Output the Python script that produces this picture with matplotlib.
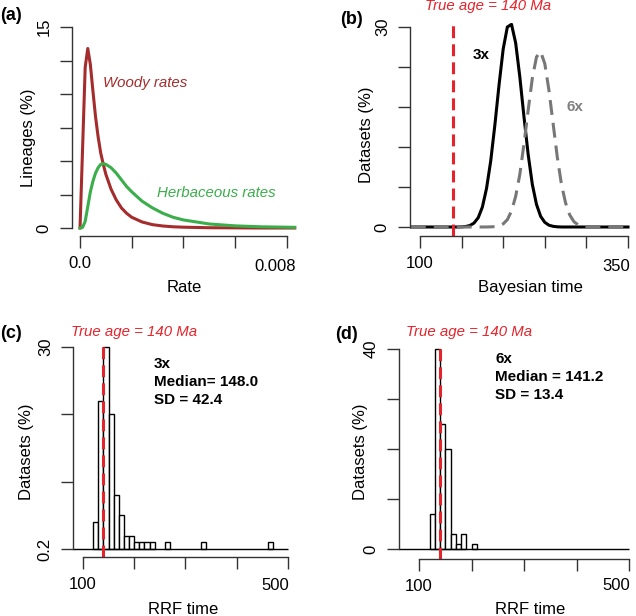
import numpy as np
import matplotlib.pyplot as plt

plt.rcParams['font.family'] = ['Liberation Sans', 'DejaVu Sans']

# ---------------- data ----------------
# (a) distribution of rates
rate = [0, 0.0001, 0.0002, 0.0003, 0.0004, 0.0005, 0.0006, 0.0007, 0.0008,
        0.0009, 0.001, 0.0012, 0.0014, 0.0016, 0.0018, 0.002, 0.0024, 0.0028,
        0.0032, 0.0036, 0.004, 0.005, 0.006, 0.007, 0.008, 0.0083]
woody = [0, 6.0, 12.0, 13.4, 12.2, 10.2, 8.3, 6.8, 5.6, 4.75, 4.0, 2.9, 2.1,
         1.5, 1.1, 0.8, 0.45, 0.25, 0.15, 0.09, 0.06, 0.02, 0.01, 0, 0, 0]
herb = [0, 0.05, 0.5, 1.6, 2.7, 3.5, 4.1, 4.5, 4.75, 4.8, 4.75, 4.5, 4.1, 3.6,
        3.1, 2.7, 2.0, 1.5, 1.1, 0.8, 0.6, 0.3, 0.16, 0.09, 0.06, 0.05]

# (b) Bayesian time estimates
bayes_t = [89, 145, 150, 155, 160, 165, 170, 175, 180, 185, 190, 195, 200,
           205, 210, 215, 220, 225, 230, 235, 240, 245, 250, 255, 260, 265,
           270, 275, 280, 285, 290, 295, 300, 305, 310, 350]
bayes_3x = [0, 0, 0.02, 0.08, 0.22, 0.6, 1.4, 3.0, 5.8, 9.9, 15.3, 21.3, 26.7,
            30.0, 30.4, 27.6, 22.5, 16.5, 10.9, 6.4, 3.4, 1.6, 0.7, 0.27, 0.1,
            0.03, 0, 0, 0, 0, 0, 0, 0, 0, 0, 0]
bayes_6x = [0, 0, 0, 0, 0, 0, 0, 0, 0.005, 0.02, 0.06, 0.18, 0.47, 1.1, 2.4,
            4.6, 7.9, 12.5, 17.5, 22.3, 25.5, 26.3, 24.5, 20.5, 15.5, 10.5,
            6.4, 3.6, 1.8, 0.8, 0.33, 0.12, 0.04, 0.01, 0, 0]

# (c), (d) RRF time histograms (10 Ma bins, left edges)
rrf3_left = [120, 130, 140, 150, 160, 170, 180, 190, 200, 210, 220, 230, 260, 330, 460]
rrf3_pct = [4, 22, 30, 20, 8, 5, 2, 2, 1, 1, 1, 1, 1, 1, 1]
rrf6_left = [120, 130, 140, 150, 160, 170, 180, 200]
rrf6_pct = [7, 40, 25, 20, 3, 1, 3, 1]
bin_w = 10
true_age = 140

RED = '#e5232b'
BROWN = '#a52c2c'
GREEN = '#3aae4a'
AX = '#333333'

W, H = 636, 616
fig = plt.figure(figsize=(W / 100, H / 100), dpi=100)


def px_axes(x0, y0, x1, y1):
    return fig.add_axes([x0 / W, 1 - y1 / H, (x1 - x0) / W, (y1 - y0) / H])


def ftext(x, y, s, **kw):
    fig.text(x / W, 1 - y / H, s, **kw)


def r_axes(ax, xt, yt, xlab, ylab):
    # R-like detached axes: only end ticks labelled
    for s in ['top', 'right']:
        ax.spines[s].set_visible(False)
    for s in ['left', 'bottom']:
        ax.spines[s].set_color(AX)
        ax.spines[s].set_linewidth(1)
    ax.spines['left'].set_bounds(yt[0], yt[-1])
    ax.spines['bottom'].set_bounds(xt[0], xt[-1])
    ax.set_xticks(xt)
    ax.set_xticklabels(xlab)
    ax.set_yticks(yt)
    ax.set_yticklabels(ylab, rotation=90, va='center')
    ax.tick_params(length=8.5, width=1, color=AX, labelsize=12, pad=6)
    ax.patch.set_alpha(0)


# ------------------- (a) -------------------
ax = px_axes(72, 19, 303, 236)
ax.plot(rate, woody, color=BROWN, lw=2.2)
ax.plot(rate, herb, color=GREEN, lw=2.2)
ax.set_xlim(-0.00031, 0.00862)
ax.set_ylim(-0.597, 15.6)
r_axes(ax, [0, 0.002, 0.004, 0.006, 0.008], [0, 2.5, 5, 7.5, 10, 12.5, 15],
       ['0.0', '', '', '', ''], ['0', '', '', '', '', '', '15'])
ftext(296, 266, '0.008', fontsize=12, ha='right', va='center')
ftext(103, 83, 'Woody rates', color=BROWN, style='italic', fontsize=10.8, va='center')
ftext(157, 193, 'Herbaceous rates', color=GREEN, style='italic', fontsize=10.8, va='center')
ftext(29, 138, 'Lineages (%)', rotation=90, fontsize=12, ha='center', va='center')
ftext(184, 288, 'Rate', fontsize=12, ha='center', va='center')
ftext(0, 15, '(a)', fontsize=13, weight='bold', va='center')

# ------------------- (b) -------------------
ax = px_axes(410, 23, 630, 236)
ax.plot(bayes_t, bayes_3x, color='black', lw=2.2)
ax.plot(bayes_t, bayes_6x, color='#777777', lw=2.2, dashes=(4.9, 2.6))
ax.axvline(true_age, color=RED, lw=2.2, dashes=(3.9, 2.0))
ax.set_xlim(88.0, 352.4)
ax.set_ylim(-1.35, 30.6)
r_axes(ax, [100, 150, 200, 250, 300, 350], [0, 6, 12, 18, 24, 30],
       ['100', '', '', '', '', ''], ['0', '', '', '', '', '30'])
ftext(630, 266, '350', fontsize=12, ha='right', va='center')
ftext(481, 55, '3x', fontsize=11, weight='bold', ha='center', va='center')
ftext(575, 107, '6x', fontsize=11, weight='bold', color='#808080', ha='center', va='center')
ftext(488, 10, 'True age = 140 Ma', color=RED, style='italic', fontsize=10.8, ha='center')
ftext(367, 135, 'Datasets (%)', rotation=90, fontsize=12, ha='center', va='center')
ftext(530, 288, 'Bayesian time', fontsize=12, ha='center', va='center')
ftext(340, 19, '(b)', fontsize=13, weight='bold', va='center')


# ------------------- (c), (d) -------------------
def rrf_panel(box, left, pct, xlim, ylim, yt, ylab, text_xy, lines, title_x, ylab_x, lab_x, tag, tag_xy):
    ax = px_axes(*box)
    ax.hlines(0, xlim[0], 500, color='black', lw=1)
    ax.bar(left, pct, width=bin_w, align='edge', color='white', edgecolor='black', lw=1)
    ax.axvline(true_age, color=RED, lw=2.2, dashes=(3.9, 2.0))
    ax.set_xlim(*xlim)
    ax.set_ylim(*ylim)
    r_axes(ax, [100, 200, 300, 400, 500], yt, ['100', '', '', '', ''], ylab)
    # last tick label sits left of the axis end, as in the original
    x_end = box[0] + (500 - xlim[0]) / (xlim[1] - xlim[0]) * (box[2] - box[0])
    ftext(x_end + 1, 585, '500', fontsize=12, ha='right', va='center')
    for i, s in enumerate(lines):
        ftext(text_xy[0], text_xy[1] + i * 18, s, fontsize=11, weight='bold')
    ftext(title_x, 336, 'True age = 140 Ma', color=RED, style='italic', fontsize=10.8, ha='center')
    ftext(ylab_x, 452, 'Datasets (%)', rotation=90, fontsize=12, ha='center', va='center')
    ftext(lab_x, 609, 'RRF time', fontsize=12, ha='center', va='center')
    ftext(tag_xy[0], tag_xy[1], tag, fontsize=13, weight='bold', va='center')


rrf_panel((73, 345, 298, 557), rrf3_left, rrf3_pct, (80.5, 519.5), (-1.19, 30.3),
          [0, 10, 20, 30], ['0.2', '', '', '30'], (154, 368),
          ['3x', 'Median= 148.0', 'SD = 42.4'], 134, 26, 183, '(c)', (0, 333))
rrf_panel((399, 345, 636, 559), rrf6_left, rrf6_pct, (61.9, 513), (-2.0, 40.8),
          [0, 10, 20, 30, 40], ['0', '', '', '', '40'], (495, 363),
          ['6x', 'Median = 141.2', 'SD = 13.4'], 469, 361, 530, '(d)', (335, 335))

fig.savefig('out.png', dpi=100)
